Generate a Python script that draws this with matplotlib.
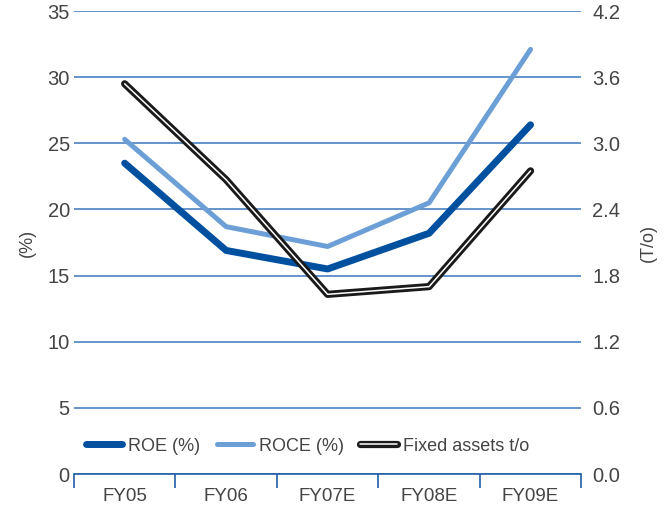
import matplotlib.pyplot as plt
import matplotlib.patheffects as pe
import numpy as np

plt.rcParams['font.family'] = ['Liberation Sans', 'DejaVu Sans']

years = ["FY05", "FY06", "FY07E", "FY08E", "FY09E"]
roe = [23.5, 16.9, 15.5, 18.2, 26.4]
roce = [25.3, 18.7, 17.2, 20.5, 32.1]
fixed_assets_to = [3.54, 2.67, 1.63, 1.70, 2.75]

grid_blue = "#4a80c0"
txt = "#444444"

fig = plt.figure(figsize=(6.72, 5.11), dpi=100)
ax = fig.add_axes([0.110, 0.0724, 0.755, 0.906])
ax2 = ax.twinx()

x = np.arange(len(years))

# left axis: percentages
ax.plot(x, roe, color="#0050a0", lw=5, solid_capstyle="round", label="ROE (%)", zorder=3)
ax.plot(x, roce, color="#6b9fd6", lw=3.6, solid_capstyle="round", label="ROCE (%)", zorder=3)

# right axis: turnover, drawn as a black line with a thin white core
t_line, = ax2.plot(x, fixed_assets_to, color="white", lw=1.1, solid_capstyle="round",
                   label="Fixed assets t/o",
                   path_effects=[pe.Stroke(linewidth=5.2, foreground="#1a1a1a", capstyle="round"),
                                 pe.Normal()])

ax.set_xlim(-0.5, len(years) - 0.5)
ax.set_ylim(0, 35)
ax2.set_ylim(0, 4.2)
ax.set_yticks(np.arange(0, 36, 5))
ax2.set_yticks(np.arange(0, 4.3, 0.6))
ax2.set_yticklabels([f"{v:.1f}" for v in np.arange(0, 4.3, 0.6)])

ax.grid(axis="y", color=grid_blue, lw=1.2)
ax.set_axisbelow(True)

for a in (ax, ax2):
    for s in ("left", "right", "top", "bottom"):
        a.spines[s].set_visible(False)
ax.tick_params(axis="y", length=0, labelsize=14.5, labelcolor=txt, pad=3)
ax2.tick_params(axis="y", length=0, labelsize=14.5, labelcolor=txt, pad=8)

ax.spines["bottom"].set_visible(True)
ax.spines["bottom"].set_color("#1f5fa8")
ax.spines["bottom"].set_linewidth(1.2)

# category labels between boundary ticks
ax.set_xticks(x)
ax.set_xticklabels(years)
ax.tick_params(axis="x", which="major", length=0, labelsize=13.5, labelcolor=txt, pad=10)
ax.set_xticks(np.arange(-0.5, len(years)), minor=True)
ax.tick_params(axis="x", which="minor", length=10, width=1.2, color="#1f5fa8", direction="out")

ax.set_ylabel("(%)", fontsize=13, color=txt, labelpad=8)
ax2.set_ylabel("(T/o)", fontsize=13, color=txt, labelpad=14)

handles = ax.get_lines()[:2] + [t_line]
leg = ax.legend(handles=handles, labels=[h.get_label() for h in handles], loc="lower left",
                bbox_to_anchor=(-0.01, 0.005), ncol=3, frameon=False, fontsize=13,
                handlelength=2.0, handletextpad=0.35, columnspacing=0.9, labelcolor=txt,
                borderaxespad=0.55)
leg.set_zorder(5)

fig.savefig("out.png", dpi=100)
